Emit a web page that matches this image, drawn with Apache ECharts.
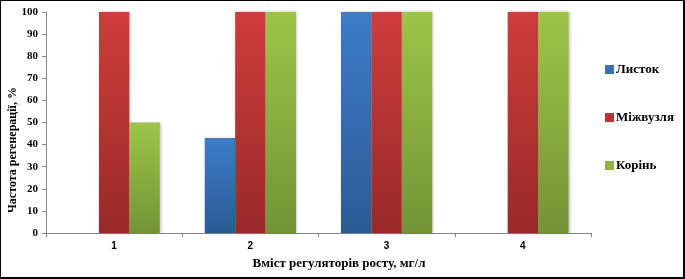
<!DOCTYPE html>
<html><head><meta charset="utf-8">
<script src="https://cdn.jsdelivr.net/npm/echarts@6/dist/echarts.min.js"></script>
<style>html,body{margin:0;padding:0;background:#fff}#c{width:685px;height:279px;box-sizing:border-box;border:1px solid #000;border-right-width:2px;border-bottom-width:2px}</style>
</head><body><div id="c"></div>
<script>
const categories = ['1', '2', '3', '4'];
const seriesNames = ['Листок', 'Міжвузля', 'Корінь'];
const leaf = [0, 43, 100, 0];
const internode = [100, 100, 100, 100];
const root = [50, 100, 100, 100];
const yTitle = 'Частота регенерації, %';
const xTitle = 'Вміст регуляторів росту, мг/л';

function grad(top, bottom) {
  return new echarts.graphic.LinearGradient(0, 0, 0, 1, [{offset: 0, color: top}, {offset: 1, color: bottom}]);
}
const cols = [['#3d7cc9', '#2b5b94'], ['#cf3d3b', '#982a29'], ['#9dc548', '#739436']];
const legendCols = ['#3b6fb6', '#b83331', '#8db343'];
const data = [leaf, internode, root];
const chart = echarts.init(document.getElementById('c'));
chart.setOption({
  animation: false,
  grid: {left: 45, right: 92, top: 11, bottom: 44, containLabel: false, outerBoundsMode: 'none'},
  legend: {
    orient: 'vertical', left: 599, top: 57, itemGap: 35, itemWidth: 9, itemHeight: 9,
    icon: 'rect',
    textStyle: {fontFamily: 'Liberation Serif', fontWeight: 'bold', fontSize: 13, color: '#000', padding: [0, 0, 0, -3]},
    data: seriesNames.map((n, i) => ({name: n, itemStyle: {color: legendCols[i]}}))
  },
  graphic: [
    {type: 'text', x: 12, y: 149, rotation: Math.PI / 2,
     style: {text: yTitle, align: 'center', verticalAlign: 'middle', font: 'bold 12px "Liberation Serif"', fill: '#000'}},
    {type: 'text', x: 338, y: 263,
     style: {text: xTitle, align: 'center', verticalAlign: 'middle', font: 'bold 13px "Liberation Serif"', fill: '#000'}}
  ],
  xAxis: {
    type: 'category', data: categories,
    axisLine: {lineStyle: {color: '#868686'}},
    axisTick: {show: true, length: 4, lineStyle: {color: '#868686'}},
    axisLabel: {fontFamily: 'Liberation Sans', fontWeight: 'bold', fontSize: 10, color: '#000', margin: 8}
  },
  yAxis: {
    type: 'value', min: 0, max: 100, interval: 10,
    axisLine: {show: true, lineStyle: {color: '#868686'}},
    axisTick: {show: true, length: 4, lineStyle: {color: '#868686'}},
    splitLine: {show: false},
    axisLabel: {fontFamily: 'Liberation Serif', fontWeight: 'bold', fontSize: 11, color: '#000', margin: 8}
  },
  series: seriesNames.map((n, i) => ({
    name: n, type: 'bar', data: data[i], barGap: '0%', barCategoryGap: '33%',
    itemStyle: {color: grad(cols[i][0], cols[i][1]), shadowColor: 'rgba(0,0,0,0.25)', shadowBlur: 3, shadowOffsetX: 1}
  }))
});
</script></body></html>
